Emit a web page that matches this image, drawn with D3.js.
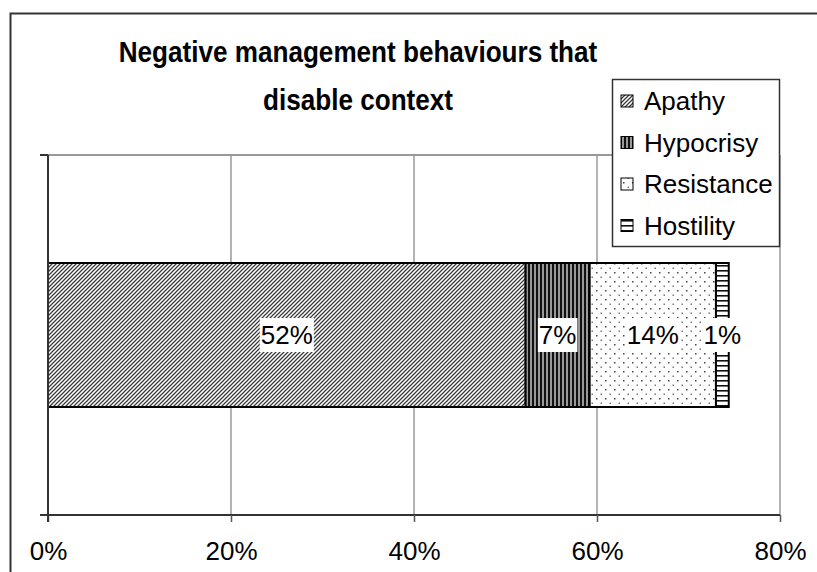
<!DOCTYPE html>
<html>
<head>
<meta charset="utf-8">
<script src="https://cdn.jsdelivr.net/npm/d3@7"></script>
<style>
  body { margin: 0; background: #fff; overflow: hidden; }
  svg { display: block; background: #fff; }
  svg text { font-family: "Liberation Sans", Arial, sans-serif; }
</style>
</head>
<body>
<div id="chart"></div>
<script>
// data
var series = ['Apathy', 'Hypocrisy', 'Resistance', 'Hostility'];
var values = [0.522, 0.070, 0.138, 0.014];
var labels = ['52%', '7%', '14%', '1%'];
var ticks = [0, 0.2, 0.4, 0.6, 0.8];
var titleLines = ['Negative management behaviours that', 'disable context'];

var width = 817, height = 572;
var plot = {left: 48, right: 780, top: 155, bottom: 515};
var fontSize = 26;

var svg = d3.select('#chart').append('svg')
    .attr('width', width)
    .attr('height', height);

var defs = svg.append('defs');

// fill patterns, one per series
function makePattern(id, size, draw) {
    var p = defs.append('pattern')
        .attr('id', id)
        .attr('patternUnits', 'userSpaceOnUse')
        .attr('width', size)
        .attr('height', size);
    draw(p);
}
makePattern('pat0', 4, function(p) {
    p.append('rect').attr('width', 4).attr('height', 4).attr('fill', '#fff');
    p.append('path').attr('d', 'M-1,1 L1,-1 M0,4 L4,0 M3,5 L5,3')
        .attr('stroke', '#3a3a3a').attr('stroke-width', 1.25);
});
makePattern('pat1', 4, function(p) {
    p.append('rect').attr('width', 4).attr('height', 4).attr('fill', '#9a9a9a');
    p.append('rect').attr('x', 0).attr('width', 2).attr('height', 4).attr('fill', '#111');
});
makePattern('pat2', 9, function(p) {
    p.append('rect').attr('width', 9).attr('height', 9).attr('fill', '#fff');
    p.append('rect').attr('x', 2).attr('y', 2).attr('width', 1.5).attr('height', 1.5).attr('fill', '#444');
    p.append('rect').attr('x', 6.5).attr('y', 6.5).attr('width', 1.5).attr('height', 1.5).attr('fill', '#777');
});
makePattern('pat3', 5, function(p) {
    p.append('rect').attr('width', 5).attr('height', 5).attr('fill', '#fff');
    p.append('rect').attr('y', 0).attr('width', 5).attr('height', 1.6).attr('fill', '#111');
});

// outer chart border: only top and left are inside the picture
svg.append('path')
    .attr('d', 'M10.5,' + height + 'V13.5H' + width)
    .attr('fill', 'none')
    .attr('stroke', '#333').attr('stroke-width', 2);

var x = d3.scaleLinear()
    .domain([0, 0.8])
    .range([plot.left, plot.right]);

var y = d3.scaleBand()
    .domain(['cat'])
    .range([plot.top, plot.bottom])
    .paddingInner(3 / 7)
    .paddingOuter(3 / 7);

// gridlines + top border
svg.append('g').selectAll('line')
    .data(ticks.slice(1))
    .enter().append('line')
    .attr('x1', function(d) { return x(d); })
    .attr('x2', function(d) { return x(d); })
    .attr('y1', plot.top).attr('y2', plot.bottom)
    .attr('stroke', '#808080').attr('stroke-width', 1.2);
svg.append('line')
    .attr('x1', plot.left).attr('x2', plot.right)
    .attr('y1', plot.top).attr('y2', plot.top)
    .attr('stroke', '#999').attr('stroke-width', 2);

// stacked bar
var stacked = [];
var acc = 0;
values.forEach(function(v, i) {
    stacked.push({x0: acc, x1: acc + v, i: i});
    acc += v;
});

svg.append('g').selectAll('rect')
    .data(stacked)
    .enter().append('rect')
    .attr('x', function(d) { return x(d.x0); })
    .attr('width', function(d) { return x(d.x1) - x(d.x0); })
    .attr('y', y('cat'))
    .attr('height', y.bandwidth())
    .attr('fill', function(d) { return 'url(#pat' + d.i + ')'; })
    .attr('stroke', '#000')
    .attr('stroke-width', 2);

// data labels with white boxes
var lg = svg.append('g');
stacked.forEach(function(d) {
    var cx = (x(d.x0) + x(d.x1)) / 2;
    var cy = y('cat') + y.bandwidth() / 2;
    var t = lg.append('text')
        .attr('x', cx).attr('y', cy + 9)
        .attr('text-anchor', 'middle')
        .attr('font-size', fontSize)
        .text(labels[d.i]);
    var bb = t.node().getBBox();
    lg.insert('rect', 'text')
        .attr('x', bb.x - 1).attr('y', cy - 17)
        .attr('width', bb.width + 2).attr('height', 34)
        .attr('fill', '#fff');
});

// axes
var xAxis = d3.axisBottom(x)
    .tickValues(ticks)
    .tickFormat(d3.format('.0%'))
    .tickSize(7)
    .tickPadding(20);
var xg = svg.append('g')
    .attr('transform', 'translate(0,' + plot.bottom + ')')
    .call(xAxis);
xg.select('.domain').attr('d', 'M' + (plot.left - 8) + ',0H' + plot.right)
    .attr('stroke', '#333').attr('stroke-width', 2);
xg.selectAll('.tick line').attr('stroke', '#555').attr('stroke-width', 1.5);
xg.selectAll('.tick text')
    .attr('font-size', fontSize)
    .attr('fill', '#000')
    .attr('font-family', '"Liberation Sans", Arial, sans-serif');

// y axis line with boundary ticks
svg.append('line')
    .attr('x1', plot.left).attr('x2', plot.left)
    .attr('y1', plot.top).attr('y2', plot.bottom + 7)
    .attr('stroke', '#333').attr('stroke-width', 2);
svg.append('line')
    .attr('x1', plot.left - 8).attr('x2', plot.left)
    .attr('y1', plot.top).attr('y2', plot.top)
    .attr('stroke', '#333').attr('stroke-width', 2);

// title: a little condensed, as in the picture
var titleX = 358, sx = 0.87;
svg.append('g')
    .attr('transform', 'translate(' + titleX + ',0) scale(' + sx + ',1)')
    .selectAll('text')
    .data(titleLines)
    .enter().append('text')
    .attr('x', 0)
    .attr('y', function(d, i) { return 62 + i * 48; })
    .attr('text-anchor', 'middle')
    .attr('font-size', 30)
    .attr('font-weight', 'bold')
    .text(function(d) { return d; });

// legend
var leg = svg.append('g');
leg.append('rect')
    .attr('x', 612.5).attr('y', 79.5)
    .attr('width', 167).attr('height', 167)
    .attr('fill', '#fff')
    .attr('stroke', '#333').attr('stroke-width', 1.5);
series.forEach(function(s, i) {
    var cy = 101 + i * 41.5;
    leg.append('rect')
        .attr('x', 621).attr('y', cy - 6)
        .attr('width', 12).attr('height', 12)
        .attr('fill', 'url(#pat' + i + ')')
        .attr('stroke', '#000').attr('stroke-width', 1);
    leg.append('text')
        .attr('x', 644).attr('y', cy + 9)
        .attr('font-size', fontSize)
        .text(s);
});
</script>
</body>
</html>
